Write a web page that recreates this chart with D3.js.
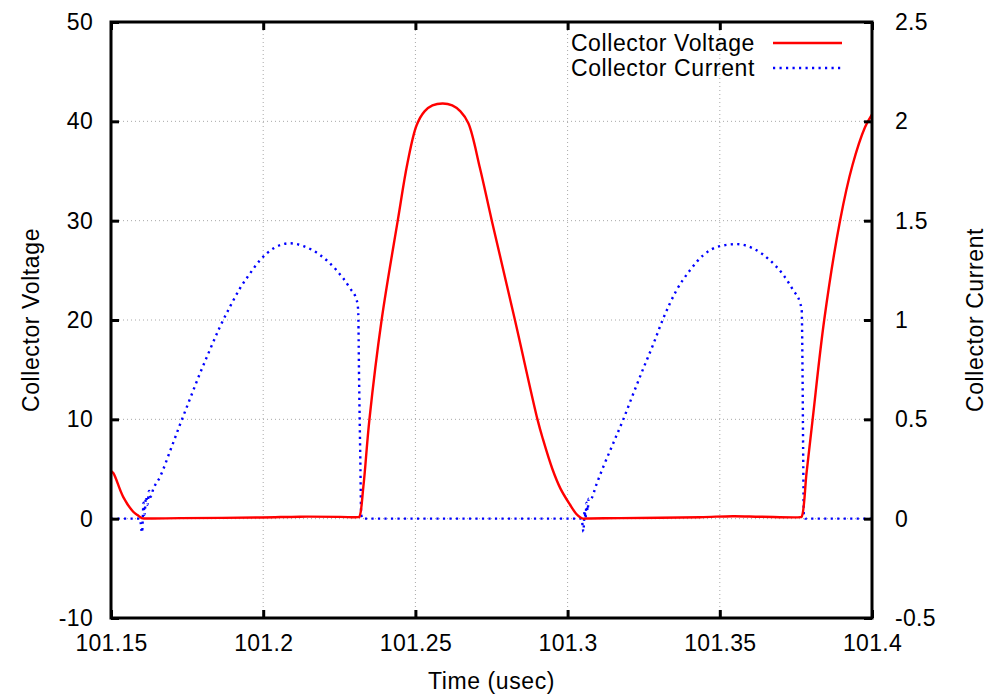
<!DOCTYPE html>
<html>
<head>
<meta charset="utf-8">
<script src="https://cdn.jsdelivr.net/npm/d3@7"></script>
<style>
  html, body { margin: 0; padding: 0; background: #fff; }
  svg text { font-family: "Liberation Sans", Arial, Helvetica, sans-serif; fill: #000; }
</style>
</head>
<body>
<svg id="chart" width="988" height="694"></svg>
<script>
// ---------- data ----------
const xTicks  = [101.15, 101.2, 101.25, 101.3, 101.35, 101.4];
const xTickLabels = ["101.15", "101.2", "101.25", "101.3", "101.35", "101.4"];
const yTicks  = [-10, 0, 10, 20, 30, 40, 50];
const yTickLabels = ["-10", "0", "10", "20", "30", "40", "50"];
const y2Ticks = [-0.5, 0, 0.5, 1, 1.5, 2, 2.5];
const y2TickLabels = ["-0.5", "0", "0.5", "1", "1.5", "2", "2.5"];

const xLabel = "Time (usec)";
const yLabel = "Collector Voltage";
const y2Label = "Collector Current";
const seriesNames = ["Collector Voltage", "Collector Current"];

// Collector voltage (left axis): time (usec), volts
const voltageTime = [
  101.1500, 101.1508, 101.1540, 101.1573, 101.1590, 101.1601, 101.1615, 101.1727, 101.1996, 101.2121, 101.2252, 101.2311,
  101.2316, 101.2329, 101.2349, 101.2389, 101.2442, 101.2474, 101.2504, 101.2530, 101.2556, 101.2590, 101.2621, 101.2648,
  101.2674, 101.2712, 101.2751, 101.2827,
  101.2901, 101.2919, 101.2950, 101.2977, 101.3008, 101.3028, 101.3041, 101.3052, 101.3066, 101.3172, 101.3435, 101.3543, 101.3632, 101.3764,
  101.3769, 101.3785, 101.3805, 101.3843, 101.3895, 101.3936, 101.3977, 101.4000
];
const voltage = [
  4.8, 4.57, 2.2, 0.7, 0.3, 0.05, 0.02, 0.05, 0.12, 0.2, 0.18, 0.15,
  0.2, 3.2, 10, 20, 30, 35.8, 39.6, 41.0, 41.6, 41.8, 41.6, 41.0,
  39.8, 35.3, 30, 20,
  10, 8.0, 5.0, 3.0, 1.4, 0.5, 0.15, 0.0, 0.02, 0.05, 0.15, 0.25, 0.2, 0.15,
  0.2, 4.6, 10, 20, 30, 35.6, 39.4, 40.7
];

// Collector current (right axis): time (usec), amps
const currentTime = [
  101.1500, 101.1595, 101.1602, 101.1607, 101.1610, 101.1615, 101.1620, 101.1625, 101.1630, 101.1639,
  101.1661, 101.1694, 101.1727, 101.1760, 101.1792, 101.1825, 101.1858, 101.1891, 101.1924, 101.1957,
  101.1989, 101.2033, 101.2088, 101.2132, 101.2187, 101.2241, 101.2285, 101.2307, 101.2312, 101.2315,
  101.2319, 101.2322, 101.2327,
  101.3046, 101.3052, 101.3056, 101.3059, 101.3062, 101.3066, 101.3069, 101.3074,
  101.3096, 101.3117, 101.3150, 101.3183, 101.3216, 101.3249, 101.3282, 101.3314, 101.3358, 101.3402,
  101.3446, 101.3501, 101.3556, 101.3610, 101.3665, 101.3709, 101.3741, 101.3764, 101.3769, 101.3772,
  101.3774, 101.3776, 101.3781, 101.4000
];
const current = [
  0, 0, -0.07, 0.08, 0.02, 0.11, 0.07, 0.14, 0.11, 0.15,
  0.21, 0.34, 0.475, 0.605, 0.73, 0.85, 0.966, 1.067, 1.16, 1.235,
  1.30, 1.36, 1.386, 1.372, 1.327, 1.25, 1.16, 1.10, 1.05, 0.7,
  0.3, 0.02, 0,
  0, -0.065, 0.04, 0.0, 0.08, 0.04, 0.1, 0.094,
  0.178, 0.26, 0.38, 0.50, 0.63, 0.757, 0.88, 1.007, 1.15, 1.25,
  1.327, 1.372, 1.382, 1.36, 1.30, 1.226, 1.15, 1.084, 1.05, 0.7,
  0.3, 0.02, 0, 0
];

// ---------- layout ----------
const svg = d3.select("#chart");
const L = 111, R = 872, T = 22, B = 618;
const FS = 23;
const LS = 0.6;

const x  = d3.scaleLinear().domain([101.15, 101.4]).range([L, R]);
const y  = d3.scaleLinear().domain([-10, 50]).range([B, T]);
const y2 = d3.scaleLinear().domain([-0.5, 2.5]).range([B, T]);

// grid
const grid = svg.append("g").attr("stroke", "#a8a8a8").attr("stroke-width", 1)
  .attr("stroke-dasharray", "1,3").attr("fill", "none");
xTicks.slice(1, -1).forEach(t => {
  grid.append("line").attr("x1", x(t)).attr("x2", x(t)).attr("y1", T).attr("y2", B);
});
yTicks.slice(1, -1).forEach(t => {
  grid.append("line").attr("x1", L).attr("x2", R).attr("y1", y(t)).attr("y2", y(t));
});

// clip
svg.append("clipPath").attr("id", "plotclip").append("rect")
  .attr("x", L).attr("y", T).attr("width", R - L).attr("height", B - T);

const vData = voltageTime.map((t, i) => [t, voltage[i]]);
const cData = currentTime.map((t, i) => [t, current[i]]);

const vLine = d3.line().x(d => x(d[0])).y(d => y(d[1])).curve(d3.curveCatmullRom.alpha(0.5));
const cLine = d3.line().x(d => x(d[0])).y(d => y2(d[1])).curve(d3.curveMonotoneX);

const plot = svg.append("g").attr("clip-path", "url(#plotclip)");
plot.append("path").datum(cData).attr("d", cLine)
  .attr("fill", "none").attr("stroke", "#0000ff").attr("stroke-width", 2.4)
  .attr("stroke-dasharray", "2.2,4.3");
plot.append("path").datum(vData).attr("d", vLine)
  .attr("fill", "none").attr("stroke", "#ff0000").attr("stroke-width", 2.4)
  .attr("stroke-linejoin", "round");

// axes (inward ticks) using d3 axis generators
const tickLen = 8;
const xAxisB = d3.axisBottom(x).tickValues(xTicks).tickFormat((d, i) => xTickLabels[i])
  .tickSizeInner(-tickLen).tickSizeOuter(0).tickPadding(17);
const xAxisT = d3.axisTop(x).tickValues(xTicks).tickFormat("")
  .tickSizeInner(-tickLen).tickSizeOuter(0);
const yAxisL = d3.axisLeft(y).tickValues(yTicks).tickFormat((d, i) => yTickLabels[i])
  .tickSizeInner(-tickLen).tickSizeOuter(0).tickPadding(18);
const yAxisR = d3.axisRight(y2).tickValues(y2Ticks).tickFormat((d, i) => y2TickLabels[i])
  .tickSizeInner(-tickLen).tickSizeOuter(0).tickPadding(23);

function styleAxis(g) {
  g.select(".domain").remove();
  g.selectAll(".tick line").attr("stroke", "#000").attr("stroke-width", 3);
  g.selectAll(".tick text").attr("font-size", FS).attr("fill", "#000")
    .attr("letter-spacing", 0.3)
    .attr("font-family", '"Liberation Sans", Arial, sans-serif');
}
svg.append("g").attr("transform", `translate(0,${B})`).call(xAxisB).call(styleAxis);
svg.append("g").attr("transform", `translate(0,${T})`).call(xAxisT).call(styleAxis);
svg.append("g").attr("transform", `translate(${L},0)`).call(yAxisL).call(styleAxis);
svg.append("g").attr("transform", `translate(${R},0)`).call(yAxisR).call(styleAxis);

// frame
svg.append("rect").attr("x", L).attr("y", T).attr("width", R - L).attr("height", B - T)
  .attr("fill", "none").attr("stroke", "#000").attr("stroke-width", 3);

// axis titles
svg.append("text").attr("x", (L + R) / 2).attr("y", 681).attr("text-anchor", "middle")
  .attr("dominant-baseline", "central").attr("font-size", FS).attr("letter-spacing", LS).text(xLabel);
svg.append("text").attr("transform", `translate(31,${(T + B) / 2}) rotate(-90)`)
  .attr("text-anchor", "middle").attr("dominant-baseline", "central")
  .attr("font-size", FS).attr("letter-spacing", LS).text(yLabel);
svg.append("text").attr("transform", `translate(975,${(T + B) / 2}) rotate(-90)`)
  .attr("text-anchor", "middle").attr("dominant-baseline", "central")
  .attr("font-size", FS).attr("letter-spacing", LS).text(y2Label);

// legend
const legendRows = [
  { name: seriesNames[0], color: "#ff0000", dash: null, y: 43 },
  { name: seriesNames[1], color: "#0000ff", dash: "2.2,4.3", y: 68 }
];
legendRows.forEach(r => {
  svg.append("text").attr("x", 755).attr("y", r.y).attr("text-anchor", "end")
    .attr("dominant-baseline", "central").attr("font-size", FS)
    .attr("letter-spacing", LS).text(r.name);
  const ln = svg.append("line").attr("x1", 773).attr("x2", 842).attr("y1", r.y).attr("y2", r.y)
    .attr("stroke", r.color).attr("stroke-width", 2.4);
  if (r.dash) ln.attr("stroke-dasharray", r.dash);
});
</script>
</body>
</html>
